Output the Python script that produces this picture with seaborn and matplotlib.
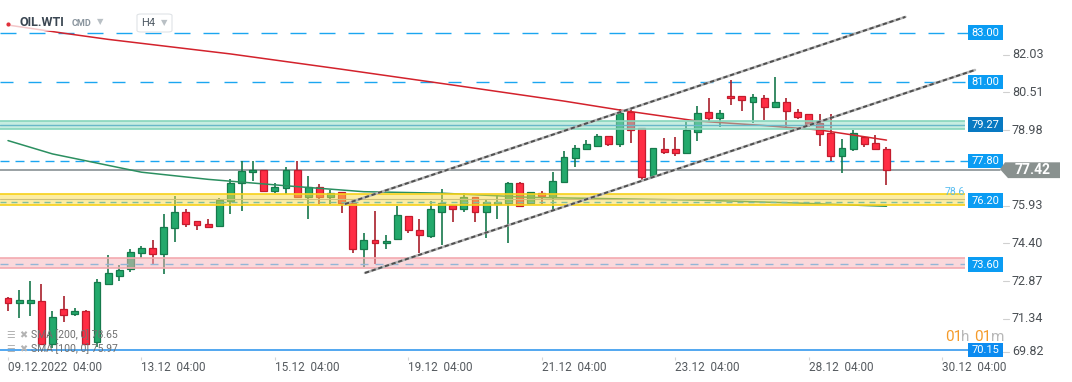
import numpy as np
import pandas as pd
import matplotlib.pyplot as plt
import seaborn as sns
from matplotlib.patches import Rectangle, Polygon, FancyBboxPatch
from matplotlib.lines import Line2D
from matplotlib.transforms import blended_transform_factory

# =============================================================================
# Data (H4 candles of OIL.WTI)
# =============================================================================

opens = [72.24, 72.04, 72.06, 72.15, 70.39, 71.80, 71.59, 71.73, 70.46, 72.84,
         73.16, 73.43, 74.07, 74.27, 74.02, 75.08, 75.73, 75.36, 75.24, 75.18,
         76.20, 76.90, 77.35, 77.43, 76.60, 76.70, 77.44, 76.36, 76.74, 76.36,
         76.54, 76.09, 74.23, 74.59, 74.47, 74.63, 75.56, 75.01, 74.78, 75.75,
         76.02, 75.85, 76.33, 75.75, 76.07, 76.11, 76.90, 76.11, 76.50, 76.36,
         76.94, 77.91, 78.28, 78.41, 78.83, 78.48, 79.80, 79.13, 77.21, 78.28,
         78.28, 78.12, 78.97, 79.78, 79.53, 80.44, 80.44, 80.21, 80.34, 80.00,
         80.21, 79.80, 79.70, 79.33, 78.93, 78.01, 78.28, 78.79, 78.52, 78.28]
highs = [72.31, 72.58, 72.94, 72.82, 71.73, 72.35, 71.84, 71.75, 73.01, 74.00,
         73.59, 74.23, 74.36, 74.60, 75.66, 76.39, 75.85, 75.36, 75.45, 76.31,
         77.07, 77.80, 77.80, 77.43, 76.90, 77.55, 77.82, 77.20, 76.86, 76.63,
         76.54, 76.22, 74.89, 75.78, 74.81, 75.99, 75.56, 75.45, 76.18, 76.67,
         76.02, 76.50, 76.33, 76.22, 76.43, 76.94, 76.94, 76.56, 76.59, 77.37,
         78.22, 78.45, 78.65, 78.89, 78.83, 79.90, 79.94, 79.14, 78.32, 78.72,
         78.76, 79.40, 80.03, 80.34, 79.87, 81.08, 80.44, 80.52, 80.48, 81.19,
         80.34, 79.90, 79.70, 79.71, 79.71, 78.69, 79.06, 78.79, 78.86, 78.36]
lows = [71.74, 71.43, 71.54, 70.35, 70.22, 71.27, 71.54, 70.35, 70.28, 72.78,
        72.96, 73.32, 73.89, 73.63, 73.24, 74.51, 75.14, 75.00, 75.10, 75.14,
        75.66, 75.78, 76.99, 76.56, 76.52, 76.47, 76.33, 75.45, 76.06, 76.05,
        75.71, 74.07, 73.50, 73.63, 74.25, 74.63, 74.88, 74.07, 74.70, 74.40,
        75.35, 75.75, 75.35, 74.70, 75.45, 74.49, 75.95, 76.09, 76.06, 75.82,
        76.94, 77.57, 78.28, 78.38, 78.41, 78.36, 78.52, 77.03, 77.21, 78.08,
        78.01, 78.12, 78.63, 79.40, 79.19, 80.07, 79.84, 79.35, 79.46, 79.96,
        79.19, 79.50, 79.19, 78.42, 77.82, 77.33, 78.22, 78.36, 78.28, 76.83]
closes = [72.07, 72.16, 72.17, 70.39, 71.47, 71.55, 71.72, 70.39, 72.90, 73.26,
          73.38, 74.11, 74.27, 74.02, 75.12, 75.73, 75.24, 75.20, 75.14, 76.22,
          76.90, 77.39, 77.45, 76.60, 76.74, 77.44, 76.36, 76.76, 76.36, 76.50,
          76.09, 74.23, 74.60, 74.47, 74.55, 75.62, 75.01, 74.79, 75.85, 76.09,
          75.85, 76.33, 75.75, 76.13, 76.13, 76.90, 75.99, 76.54, 76.37, 76.98,
          77.95, 78.32, 78.48, 78.83, 78.48, 79.74, 79.06, 77.17, 78.32, 78.18,
          78.14, 79.06, 79.74, 79.53, 79.74, 80.34, 80.27, 80.38, 79.98, 80.21,
          79.84, 79.60, 79.29, 78.90, 78.01, 78.32, 78.93, 78.48, 78.28, 77.42]

# moving averages (candle index, value)
sma200_idx = [0, 5, 9, 20, 30, 40, 50, 55, 62, 68, 73, 79]
sma200_val = [83.31, 82.98, 82.73, 82.14, 81.52, 80.88, 80.23, 79.87, 79.42, 79.24, 79.06, 78.65]
sma100_idx = [0, 4, 12, 18, 25, 32, 39, 47, 55, 62, 71, 79]
sma100_val = [78.63, 78.09, 77.35, 77.06, 76.80, 76.56, 76.50, 76.33, 76.27, 76.22, 76.10, 75.97]

# trend channel (candle index, price)
channel_upper = [(30.3, 76.06), (80.7, 83.64)]
channel_lower = [(32.1, 73.27), (86.96, 81.49)]

# x axis
tick_pos = [0, 12, 24, 36, 48, 60, 72, 84]
tick_labels = ['09.12.2022  04:00', '13.12  04:00', '15.12  04:00', '19.12  04:00',
               '21.12  04:00', '23.12  04:00', '28.12  04:00', '30.12  04:00']

# right price scale
price_ticks = [82.03, 80.51, 78.98, 75.93, 74.40, 72.87, 71.34, 69.82]

# levels and zones
level_values = [83.00, 81.00, 79.27, 77.80, 76.20, 73.60, 70.15]
level_labels = ['83.00', '81.00', '79.27', '77.80', '76.20', '73.60', '70.15']
teal_zone = (79.10, 79.43)
yellow_zone = (76.04, 76.47)
pink_zone = (73.46, 73.87)
last_price = 77.42

# =============================================================================
# Figure
# =============================================================================

sns.set_theme(style='white')
plt.rcParams['font.family'] = ['Roboto', 'DejaVu Sans']

W, H = 1072, 382
fig = plt.figure(figsize=(W / 100, H / 100), dpi=100)
ax = fig.add_axes([0, 25 / H, 965 / W, 357 / H])
ax.set_xlim(-0.72, 86.06)
ax.set_ylim(69.865, 84.324)
for s in ax.spines.values():
    s.set_visible(False)

trans = blended_transform_factory(ax.transAxes, ax.transData)


def fx(px):
    return px / W


def fy(py):
    return 1 - py / H


def px2lw(px, lw):
    # dash length in px -> units of linewidth
    return px * 0.72 / lw


# horizontal levels (under the candles)
blue = '#1ba6f0'
for v, d in [(83.00, (16, 13)), (81.00, (13, 15)), (77.80, (9, 6))]:
    ax.plot([0, 1.003], [v, v], transform=trans, clip_on=False, color=blue, lw=1.0,
            dashes=(px2lw(d[0], 1.0), px2lw(d[1], 1.0)), zorder=1)
ax.plot([0, 1000 / 965], [last_price, last_price], transform=trans, clip_on=False,
        color='#7f878b', lw=1.1, zorder=1)
ax.plot([0, 1.003], [70.15, 70.15], transform=trans, clip_on=False,
        color='#3598ee', lw=1.2, zorder=1)

# candles
candles = pd.DataFrame({'open': opens, 'high': highs, 'low': lows, 'close': closes})
candles['i'] = np.arange(len(candles))
up = candles['close'] >= candles['open']
dn = ~up

ax.vlines(candles['i'][up], candles['low'][up], candles['high'][up], color='#17784b', lw=1.2, zorder=2)
ax.vlines(candles['i'][dn], candles['low'][dn], candles['high'][dn], color='#a81f2b', lw=1.2, zorder=2)
body = (candles['close'] - candles['open']).abs().clip(lower=0.05)
bottom = candles[['open', 'close']].min(axis=1)
ax.bar(candles['i'][up], body[up], bottom=bottom[up], width=0.62, color='#23a96c',
       edgecolor='#167a4c', linewidth=0.9, zorder=3)
ax.bar(candles['i'][dn], body[dn], bottom=bottom[dn], width=0.62, color='#ff2d44',
       edgecolor='#c41b2d', linewidth=0.9, zorder=3)

# moving averages
sns.lineplot(x=sma200_idx, y=sma200_val, ax=ax, color='#d3222c', lw=1.1, zorder=4)
sns.lineplot(x=sma100_idx, y=sma100_val, ax=ax, color='#2b8f60', lw=1.1, zorder=4)

# zones on top, semi transparent
for (lo, hi), fc, ec in [(teal_zone, '#8fdcc3', '#86d6bb'),
                         (yellow_zone, '#fbdc4a', '#f6d11a'),
                         (pink_zone, '#f6b3b8', '#f3aab0')]:
    ax.axhspan(lo, hi, xmin=0, xmax=1, facecolor=fc, alpha=0.5, lw=0, zorder=5)
    ax.axhline(lo, xmin=0, xmax=1, color=ec, lw=1.2, zorder=5)
    ax.axhline(hi, xmin=0, xmax=1, color=ec, lw=1.2, zorder=5)
ax.axhline(79.27, color='#6ab8c9', lw=1.0, zorder=5)
ax.axhline(76.25, color='#cdbf7c', lw=0.8, zorder=5)
ax.axhline(76.14, color='#80bf9e', lw=1.0, dashes=(px2lw(6, 1), px2lw(5, 1)), zorder=5)
ax.axhline(73.62, color='#94b6d6', lw=1.0, dashes=(px2lw(8, 1), px2lw(7, 1)), zorder=5)
ax.text(1.0, 76.53, '78.6', transform=trans, ha='right', va='center', fontsize=7.5,
        color='#58bdf0', zorder=6)

# trend channel
for line in [channel_upper, channel_lower]:
    xs = [p[0] for p in line]
    ys = [p[1] for p in line]
    ax.plot(xs, ys, color='#b8b8b8', lw=1.8, clip_on=False, zorder=6)
    ax.plot(xs, ys, color='#4f4f4f', lw=1.4, dashes=(2.2, 1.4), clip_on=False, zorder=6)

# x axis
ax.set_yticks([])
ax.set_xticks(tick_pos)
ax.set_xticklabels(tick_labels, ha='left')
ax.tick_params(axis='x', bottom=True, length=2.5, width=0.8, color='#d5d5d5', pad=0.5,
               labelsize=8.5, labelcolor='#555a5f')

# right scale labels
for v in price_ticks:
    y = max(v + 0.07, 70.08)
    ax.plot([1003 / 965, 1009 / 965], [y, y], transform=trans, clip_on=False, color='#d0d0d0', lw=0.8)
    ax.text(1012 / 965, y, f'{v:.2f}', transform=trans, ha='left', va='center',
            fontsize=9, color='#4a4f54')

for v, lab in zip(level_values, level_labels):
    fc = '#0a9cf3'
    if lab == '79.27':
        fc = '#0879c2'
    if lab == '70.15':
        fc = '#0b8bf0'
    ax.add_patch(Rectangle((968 / 965, v - 0.30), 35 / 965, 0.60, transform=trans,
                           clip_on=False, facecolor=fc, edgecolor='none', zorder=7))
    ax.text(985.5 / 965, v, lab, transform=trans, ha='center', va='center', fontsize=8,
            color='white', zorder=8)

# current price pointer
ax.add_patch(Polygon([(1000 / 965, last_price + 0.05), (1005 / 965, last_price + 0.33),
                      (1060 / 965, last_price + 0.33), (1060 / 965, last_price - 0.31),
                      (1008 / 965, last_price - 0.31)], closed=True, transform=trans,
                     clip_on=False, facecolor='#89918f', edgecolor='none', zorder=7))
ax.text(1033 / 965, last_price, f'{last_price:.2f}', transform=trans, ha='center', va='center',
        fontsize=10, fontweight='bold', color='white', zorder=8)

# =============================================================================
# Header and overlay texts
# =============================================================================

fig.add_artist(Rectangle((fx(0), fy(31)), fx(178), 21 / H, transform=fig.transFigure,
                         facecolor='white', alpha=0.75, edgecolor='none', zorder=1))
fig.add_artist(Line2D([fx(8)], [fy(24)], marker='o', ms=2, color='#e0303a',
                      transform=fig.transFigure, zorder=2))
fig.text(fx(20), fy(22.5), 'OIL.WTI', fontsize=9, fontweight='bold', color='#3a4652',
         va='center', ha='left', zorder=2)
fig.text(fx(72), fy(24), 'CMD', fontsize=6.5, fontweight='bold', color='#8a959e', va='center', zorder=2)
fig.text(fx(100), fy(22), '▼', fontsize=6, color='#b9c0c5', ha='center', va='center', zorder=2)
fig.add_artist(FancyBboxPatch((fx(137), fy(32)), 35 / W, 18 / H,
                              boxstyle='round,pad=0,rounding_size=0.004',
                              transform=fig.transFigure, facecolor='white',
                              edgecolor='#dfe3e6', lw=0.8, zorder=2))
fig.text(fx(141), fy(23), 'H4', fontsize=8, color='#4f5a64', va='center', zorder=3)
fig.text(fx(164), fy(23), '▼', fontsize=6, color='#b9c0c5', ha='center', va='center', zorder=3)

for py, lab in [(335, 'SMA [200, 0] 78.65'), (349, 'SMA [100, 0] 75.97')]:
    fig.text(fx(11), fy(py), '☰', fontsize=7, color='#b3b3b3', ha='center', va='center', zorder=2)
    fig.text(fx(23.5), fy(py), '✖', fontsize=7, color='#b3b3b3', ha='center', va='center', zorder=2)
    fig.text(fx(31), fy(py), lab, fontsize=7.5, color='#6f6f6f', va='center', zorder=2)

for px, s, c in [(945.5, '01', '#f59b2a'), (960.5, 'h', '#b8b8b8'),
                 (974.5, '01', '#f59b2a'), (991.5, 'm', '#b8b8b8')]:
    fig.text(fx(px), fy(337), s, fontsize=11, color=c, va='center', ha='left', zorder=2)

plt.savefig('out.png', dpi=100)
